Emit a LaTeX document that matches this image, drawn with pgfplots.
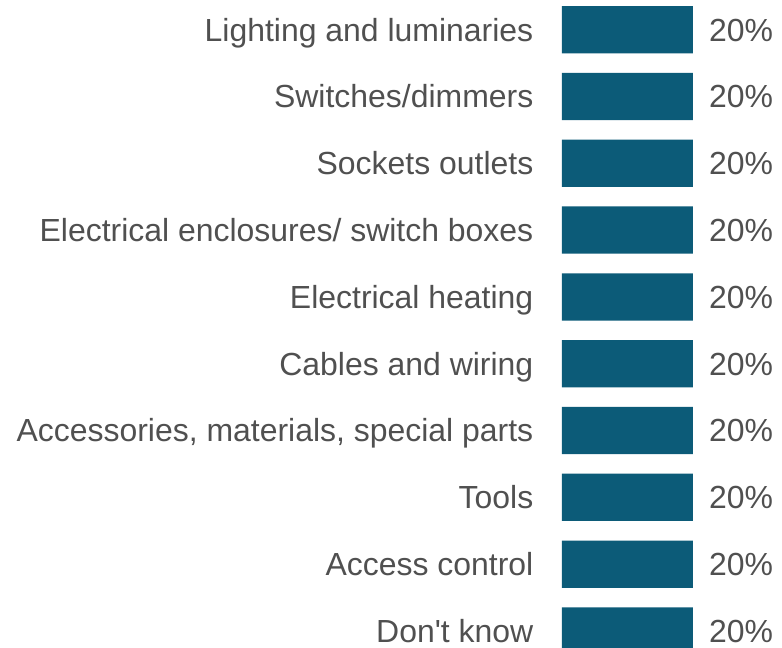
\documentclass[border=0pt]{standalone}
\usepackage{fontspec}
\newfontfamily\lab{Liberation Sans}
\usepackage{pgfplots}
\pgfplotsset{compat=1.18}
\definecolor{barc}{HTML}{0C5B78}
\definecolor{txt}{HTML}{505050}
\begin{document}
\begin{tikzpicture}
\begin{axis}[
  at={(562pt,0pt)}, anchor=south west,
  scale only axis, width=131pt, height=648pt,
  xmin=0, xmax=20, ymin=-0.4438, ymax=9.255,
  y dir=reverse,
  axis line style={draw=none},
  xtick=\empty,
  xbar, bar width=47.3pt, bar shift=0pt,
  ytick={0,...,9},
  yticklabels={Lighting and luminaries,Switches/dimmers,Sockets outlets,Electrical enclosures/ switch boxes,Electrical heating,Cables and wiring,{Accessories, materials, special parts},Tools,Access control,Don't know},
  major tick length=0pt,
  y tick style={draw=none},
  y tick label style={font=\lab\fontsize{31.95}{38}\selectfont, text=txt, inner sep=0pt, anchor=base east, xshift=-28.5pt, yshift=-11.4pt},
  point meta=x,
  /pgf/number format/assume math mode=true,
  nodes near coords={\pgfmathprintnumber{\pgfplotspointmeta}\%},
  every node near coord/.append style={font=\lab\fontsize{31.95}{38}\selectfont, text=txt, inner sep=0pt, anchor=base west, xshift=16pt, yshift=-11.4pt},
  clip=true,
]
\addplot[fill=barc, draw=none] coordinates {
(20,0) (20,1) (20,2) (20,3) (20,4) (20,5) (20,6) (20,7) (20,8) (20,9)
};
\end{axis}
\pgfresetboundingbox
\path[use as bounding box] (0,0) rectangle (782pt,648pt);
\end{tikzpicture}
\end{document}
